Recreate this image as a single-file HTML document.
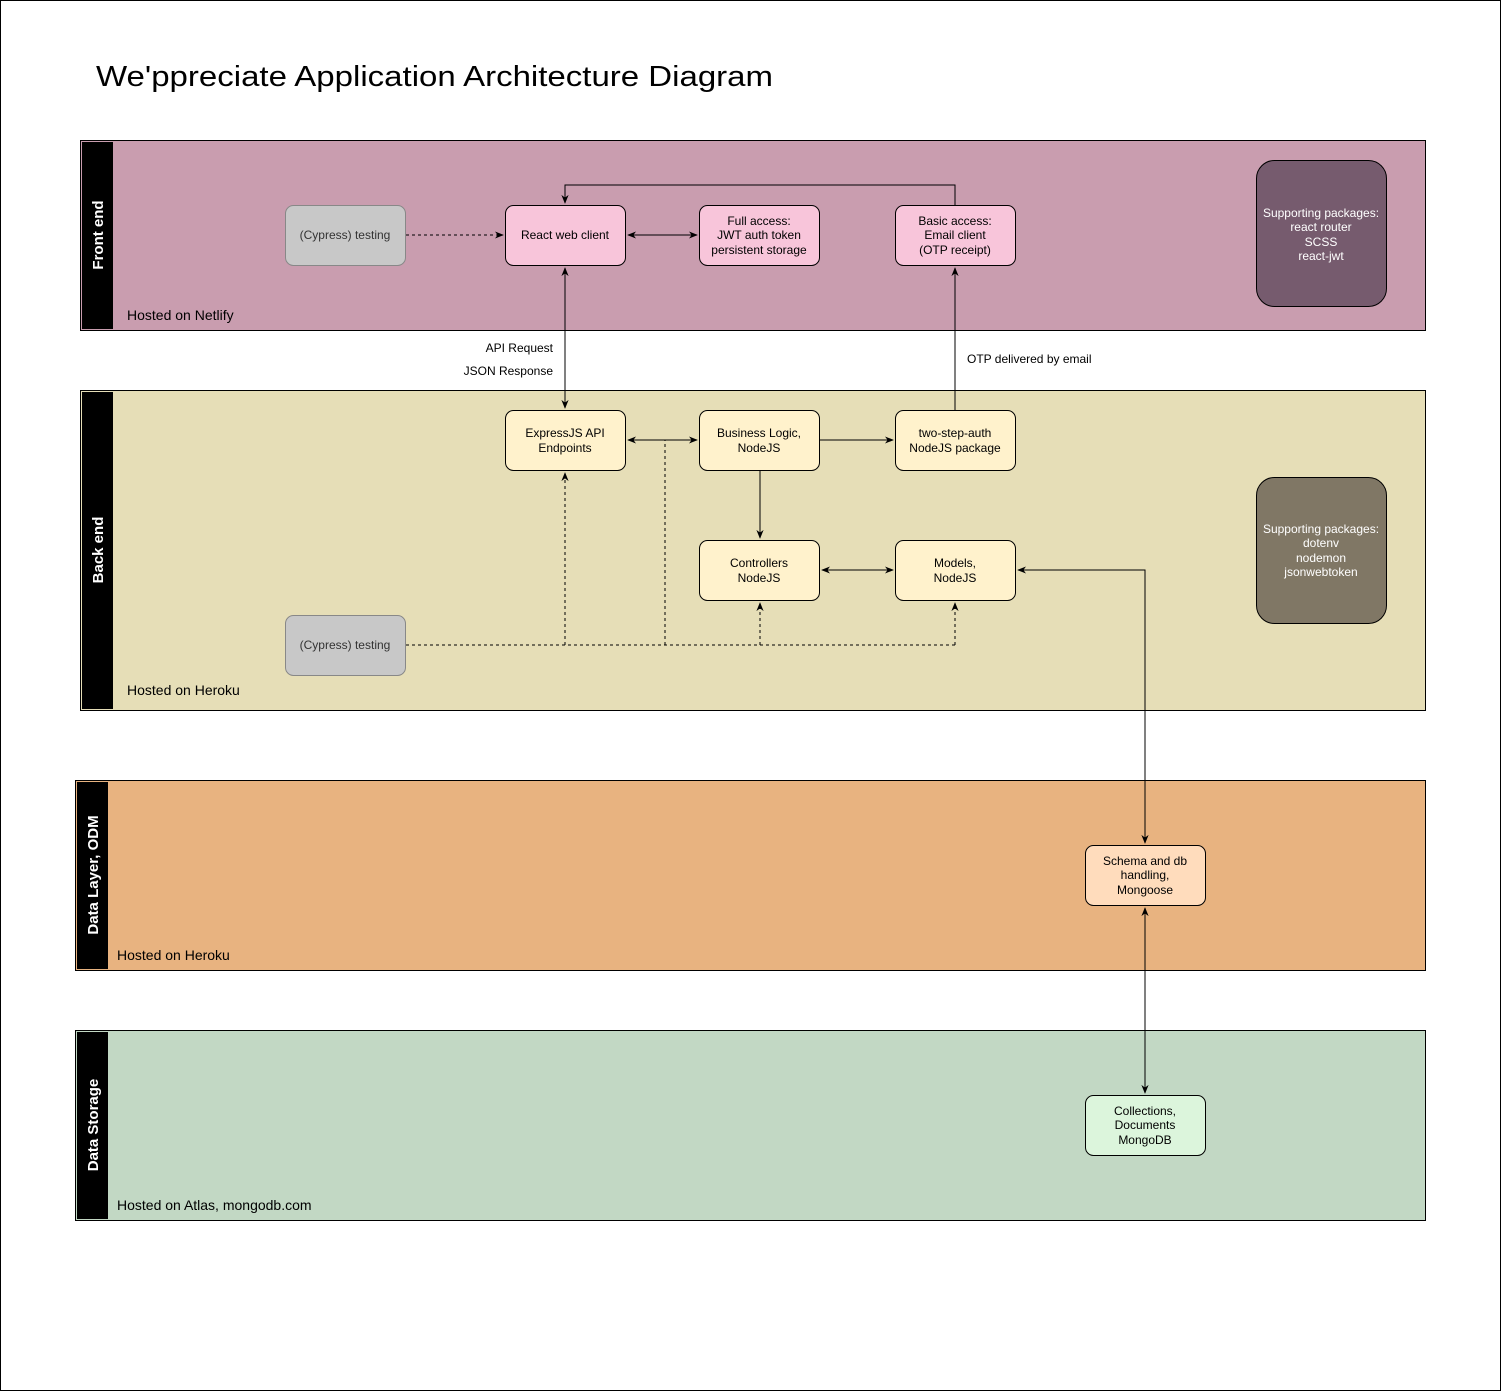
<!DOCTYPE html>
<html><head><meta charset="utf-8"><style>
html,body{margin:0;padding:0;background:#fff}
svg{display:block}
text{font-family:"Liberation Sans",Arial,sans-serif}
</style></head><body>
<svg width="1501" height="1391" viewBox="0 0 1501 1391" xmlns="http://www.w3.org/2000/svg">
<defs>
<marker id="a" viewBox="0 0 10 10" refX="9" refY="5" markerWidth="9" markerHeight="9" orient="auto-start-reverse"><path d="M0,1 L10,5 L0,9 L3,5 z" fill="#000"/></marker>
</defs>
<rect x="0.5" y="0.5" width="1500" height="1390" fill="#fff" stroke="#000"/>
<text x="96" y="86" font-size="29" fill="#000" textLength="677" lengthAdjust="spacingAndGlyphs">We'ppreciate Application Architecture Diagram</text>

<!-- lanes -->
<rect x="80.5" y="140.5" width="1345" height="190" fill="#c99daf" stroke="#000"/>
<rect x="82" y="142" width="31" height="187" fill="#000"/>
<text transform="translate(103,235) rotate(-90)" font-size="15" font-weight="bold" fill="#fff" text-anchor="middle">Front end</text>
<text x="127" y="320" font-size="14">Hosted on Netlify</text>

<rect x="80.5" y="390.5" width="1345" height="320" fill="#e6deb7" stroke="#000"/>
<rect x="82" y="392" width="31" height="317" fill="#000"/>
<text transform="translate(103,550) rotate(-90)" font-size="15" font-weight="bold" fill="#fff" text-anchor="middle">Back end</text>
<text x="127" y="695" font-size="14">Hosted on Heroku</text>

<rect x="75.5" y="780.5" width="1350" height="190" fill="#e8b380" stroke="#000"/>
<rect x="77" y="782" width="31" height="187" fill="#000"/>
<text transform="translate(98,875) rotate(-90)" font-size="15" font-weight="bold" fill="#fff" text-anchor="middle">Data Layer, ODM</text>
<text x="117" y="960" font-size="14">Hosted on Heroku</text>

<rect x="75.5" y="1030.5" width="1350" height="190" fill="#c2d8c4" stroke="#000"/>
<rect x="77" y="1032" width="31" height="187" fill="#000"/>
<text transform="translate(98,1125) rotate(-90)" font-size="15" font-weight="bold" fill="#fff" text-anchor="middle">Data Storage</text>
<text x="117" y="1210" font-size="14">Hosted on Atlas, mongodb.com</text>

<!-- connectors -->
<g stroke="#000" fill="none" stroke-width="1">
<path d="M406,235 H503" stroke-dasharray="3,3" marker-end="url(#a)"/>
<path d="M628,235 H697" marker-start="url(#a)" marker-end="url(#a)"/>
<path d="M955,205 V185 H565 V203" marker-end="url(#a)"/>
<path d="M565,268 V408" marker-start="url(#a)" marker-end="url(#a)"/>
<path d="M955,410 V268" marker-end="url(#a)"/>
<path d="M628,440 H697" marker-start="url(#a)" marker-end="url(#a)"/>
<path d="M820,440 H893" marker-end="url(#a)"/>
<path d="M760,470 V538" marker-end="url(#a)"/>
<path d="M822,570 H893" marker-start="url(#a)" marker-end="url(#a)"/>
<path d="M1018,570 H1145 V843" marker-start="url(#a)" marker-end="url(#a)"/>
<path d="M1145,908 V1093" marker-start="url(#a)" marker-end="url(#a)"/>
<g stroke-dasharray="3,3">
<path d="M406,645 H955"/>
<path d="M565,645 V473" marker-end="url(#a)"/>
<path d="M665,645 V440"/>
<path d="M760,645 V603" marker-end="url(#a)"/>
<path d="M955,645 V603" marker-end="url(#a)"/>
</g>
</g>
<text x="553" y="352" font-size="12" text-anchor="end">API Request</text>
<text x="553" y="375" font-size="12" text-anchor="end">JSON Response</text>
<text x="967" y="363" font-size="12">OTP delivered by email</text>

<!-- nodes -->
<g font-size="12" text-anchor="middle">
<rect x="285.5" y="205.5" width="120" height="60" rx="8" fill="#c8c8c8" stroke="#888"/>
<text x="345" y="239" fill="#333">(Cypress) testing</text>
<rect x="505.5" y="205.5" width="120" height="60" rx="8" fill="#f8c5da" stroke="#000"/>
<text x="565" y="239">React web client</text>
<rect x="699.5" y="205.5" width="120" height="60" rx="8" fill="#f8c5da" stroke="#000"/>
<text x="759" y="225">Full access:</text><text x="759" y="239">JWT auth token</text><text x="759" y="254">persistent storage</text>
<rect x="895.5" y="205.5" width="120" height="60" rx="8" fill="#f8c5da" stroke="#000"/>
<text x="955" y="225">Basic access:</text><text x="955" y="239">Email client</text><text x="955" y="254">(OTP receipt)</text>

<rect x="1256.5" y="160.5" width="130" height="146" rx="18" fill="#765b6e" stroke="#000"/>
<text x="1321" y="217" fill="#fff">Supporting packages:</text><text x="1321" y="231" fill="#fff">react router</text><text x="1321" y="246" fill="#fff">SCSS</text><text x="1321" y="260" fill="#fff">react-jwt</text>

<rect x="505.5" y="410.5" width="120" height="60" rx="8" fill="#fff2cc" stroke="#000"/>
<text x="565" y="437">ExpressJS API</text><text x="565" y="452">Endpoints</text>
<rect x="699.5" y="410.5" width="120" height="60" rx="8" fill="#fff2cc" stroke="#000"/>
<text x="759" y="437">Business Logic,</text><text x="759" y="452">NodeJS</text>
<rect x="895.5" y="410.5" width="120" height="60" rx="8" fill="#fff2cc" stroke="#000"/>
<text x="955" y="437">two-step-auth</text><text x="955" y="452">NodeJS package</text>
<rect x="699.5" y="540.5" width="120" height="60" rx="8" fill="#fff2cc" stroke="#000"/>
<text x="759" y="567">Controllers</text><text x="759" y="582">NodeJS</text>
<rect x="895.5" y="540.5" width="120" height="60" rx="8" fill="#fff2cc" stroke="#000"/>
<text x="955" y="567">Models,</text><text x="955" y="582">NodeJS</text>
<rect x="285.5" y="615.5" width="120" height="60" rx="8" fill="#c8c8c8" stroke="#888"/>
<text x="345" y="649" fill="#333">(Cypress) testing</text>

<rect x="1256.5" y="477.5" width="130" height="146" rx="18" fill="#807765" stroke="#000"/>
<text x="1321" y="533" fill="#fff">Supporting packages:</text><text x="1321" y="547" fill="#fff">dotenv</text><text x="1321" y="562" fill="#fff">nodemon</text><text x="1321" y="576" fill="#fff">jsonwebtoken</text>

<rect x="1085.5" y="845.5" width="120" height="60" rx="8" fill="#ffdcbc" stroke="#000"/>
<text x="1145" y="865">Schema and db</text><text x="1145" y="879">handling,</text><text x="1145" y="894">Mongoose</text>
<rect x="1085.5" y="1095.5" width="120" height="60" rx="8" fill="#dcf5dc" stroke="#000"/>
<text x="1145" y="1115">Collections,</text><text x="1145" y="1129">Documents</text><text x="1145" y="1144">MongoDB</text>
</g>
</svg>
</body></html>
